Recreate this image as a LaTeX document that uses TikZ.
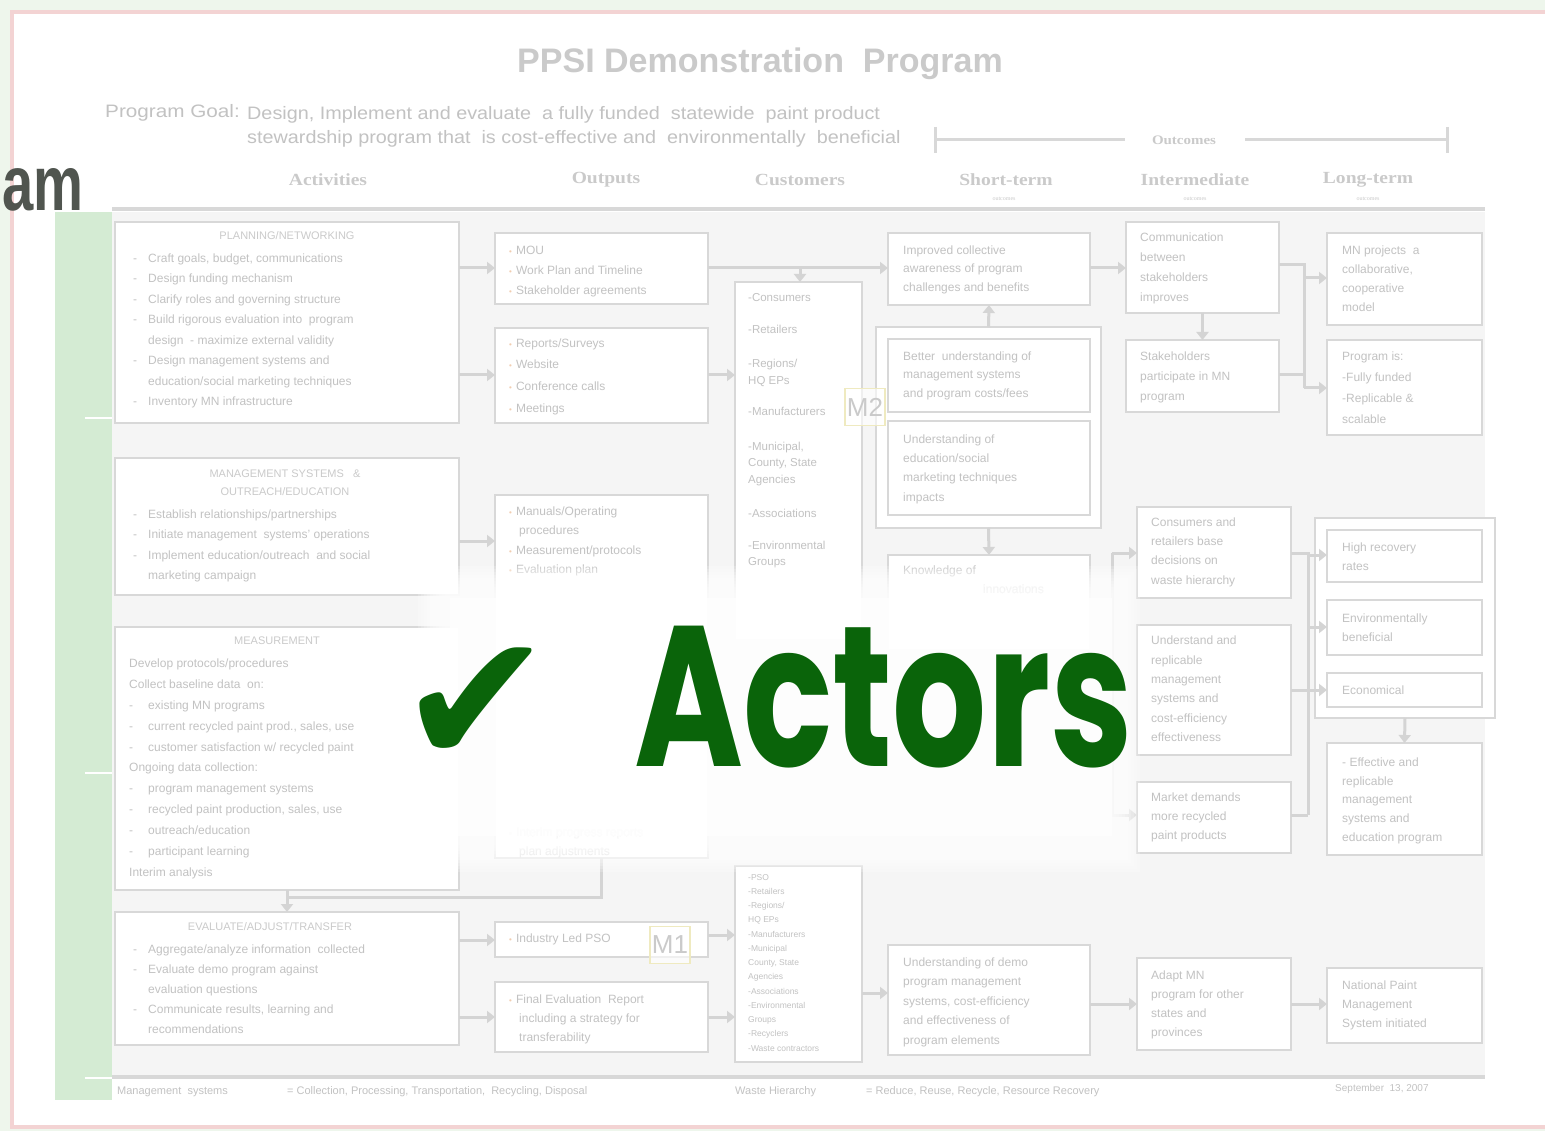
\documentclass[tikz,border=0pt]{standalone}
\usepackage{fontspec}
\setmainfont{Liberation Sans}
\newfontfamily\hdserif{Liberation Serif}
\newfontfamily\symfont{DejaVu Sans}
\newfontfamily\actfont{Poppins}
\usetikzlibrary{arrows.meta}
\definecolor{txc}{HTML}{C2C2C2}
\definecolor{ttl}{HTML}{CACACA}
\definecolor{bxc}{HTML}{D8D8D8}
\definecolor{arc}{HTML}{D4D4D4}
\definecolor{dgbg}{HTML}{F5F5F5}
\definecolor{outg}{HTML}{EEF6EC}
\definecolor{pinkf}{HTML}{F3D3D3}
\definecolor{barg}{HTML}{D4EBD3}
\definecolor{dotc}{HTML}{F1CDB0}
\definecolor{actg}{HTML}{0A640A}
\definecolor{mlab}{HTML}{EFEAC0}
\definecolor{amc}{HTML}{50554F}
\newcommand\dlin[1]{\makebox[15pt][l]{-}#1}
\newcommand\clin[1]{\hspace*{15pt}#1}
\newcommand\obul{{\color{dotc}\fontsize{8}{8}\selectfont\textbullet}\hspace{4pt}}
\newcommand\fs[2]{\fontsize{#1}{#2}\selectfont}
\newcommand\bxn[5]{\node[bx, minimum width={#4pt-#2pt}, minimum height={#5pt-#3pt}] (#1) at ({(#2+#4)/2},{(#3+#5)/2}) {};}
\newcommand\hdx[1]{\scalebox{1.15}[1]{#1}}
\begin{document}
\begin{tikzpicture}[x=1pt,y=-1pt,
  bx/.style={draw=bxc, line width=2.5pt, fill=white, inner sep=0pt, outer sep=0pt, rectangle},
  tx/.style={anchor=north west, inner sep=0pt, align=left, text=txc, font=\fs{12}{20.5}},
  ttlx/.style={inner sep=0pt, align=center, text=ttl, font=\fs{11}{18}},
  hd/.style={inner sep=0pt, text=ttl, font=\hdserif\bfseries\fs{17}{19}},
  hds/.style={inner sep=0pt, text=ttl, font=\hdserif\fs{6}{7}},
  arr/.style={draw=arc, line width=3pt, -{Triangle[length=8pt,width=12pt]}},
  ln/.style={draw=arc, line width=3pt},
  mbox/.style={draw=mlab, line width=1.2pt, fill=white, fill opacity=0.6, text opacity=1, text=ttl, font=\fs{26}{26}, inner sep=1pt, minimum width=40pt, minimum height=37pt},
  ft/.style={anchor=west, inner sep=0pt, text=txc, font=\fs{11}{13}}]
\useasboundingbox (0,0) rectangle (1545,1131);
% slide background
\fill[outg] (0,0) rectangle (1545,1131);
\fill[white] (12,12) rectangle (1545,1127);
\draw[pinkf, line width=4pt] (1550,12) -- (12,12) -- (12,1127) -- (1550,1127);
\node[font=\bfseries\fs{78}{78}, text=amc, anchor=base east, inner sep=0pt] (amw) at (84,211) {\scalebox{0.72}[1]{am}};
\fill[barg] (55,212) rectangle (112,1100);
\fill[dgbg] (112,212) rectangle (1485,1075);
\foreach \yy in {418,773,1078} \draw[white, line width=1.5pt] (85,\yy) -- (112,\yy);
\draw[bxc, line width=4pt] (112,209) -- (1485,209);
\draw[bxc, line width=4pt] (112,1077) -- (1485,1077);

% title and goal
\node[inner sep=0pt, text=ttl, font=\bfseries\fs{34}{36}] (title) at (760,64) {PPSI Demonstration\ \ Program};
\node[anchor=west, inner sep=0pt, text=txc, font=\fs{18}{20}] (goal) at (105,113) {\scalebox{1.15}[1]{Program Goal:}};
\node[anchor=north west, inner sep=0pt, align=left, text=txc, font=\fs{18}{24}] (goaltext) at (247,106) {\scalebox{1.1}[1]{Design, Implement and evaluate\ \ a fully funded\ \ statewide\ \ paint product}\\\scalebox{1.1}[1]{stewardship program that\ \ is cost-effective and\ \ environmentally\ \ beneficial}};
% outcomes bracket
\node[hd, font=\hdserif\bfseries\fs{13}{15}] (outc) at (1184,140) {\hdx{Outcomes}};
\draw[bxc, line width=3pt] (935,140) -- (1125,140);
\draw[bxc, line width=3pt] (1245,140) -- (1447,140);
\draw[bxc, line width=3pt] (935,127) -- (935,153);
\draw[bxc, line width=3pt] (1447,127) -- (1447,153);
% column headers
\node[hd] (hact) at (328,180) {\hdx{Activities}};
\node[hd] (hout) at (606,180) {\hdx{Outputs}};
\node[hd] (hcus) at (800,180) {\hdx{Customers}};
\node[hd] (hst) at (1006,180) {\hdx{Short-term}};
\node[hd] (hint) at (1195,180) {\hdx{Intermediate}};
\node[hd] (hlt) at (1368,180) {\hdx{Long-term}};
\node[hds] (hst2) at (1004,199) {outcomes};
\node[hds] (hint2) at (1195,199) {outcomes};
\node[hds] (hlt2) at (1368,199) {outcomes};

% group boxes
\bxn{grp}{876}{327}{1101}{528}
\bxn{grptwo}{1315}{518}{1495}{718}
% activities
\bxn{plan}{115}{222}{459}{423}
\bxn{mgmt}{115}{458}{459}{595}
\bxn{meas}{115}{627}{459}{890}
\bxn{eval}{115}{912}{459}{1045}
% outputs
\bxn{oa}{495}{233}{708}{304}
\bxn{ob}{495}{328}{708}{423}
\bxn{oc}{495}{495}{708}{858}
\bxn{od}{495}{922}{708}{957}
\bxn{oe}{495}{982}{708}{1052}
% customers
\bxn{ca}{735}{282}{862}{640}
\bxn{cb}{735}{866}{862}{1062}
% short-term
\bxn{sa}{888}{233}{1090}{305}
\bxn{sb}{888}{339}{1090}{412}
\bxn{sc}{888}{421}{1090}{515}
\bxn{sd}{888}{555}{1090}{650}
\bxn{se}{888}{945}{1090}{1055}
% intermediate
\bxn{ia}{1126}{222}{1279}{313}
\bxn{ib}{1126}{340}{1279}{412}
\bxn{ic}{1137}{507}{1291}{598}
\bxn{id}{1137}{625}{1291}{755}
\bxn{ie}{1137}{782}{1291}{853}
\bxn{if}{1137}{958}{1291}{1050}
% long-term
\bxn{la}{1327}{233}{1482}{325}
\bxn{lb}{1327}{340}{1482}{435}
\bxn{lc}{1327}{530}{1482}{582}
\bxn{ld}{1327}{600}{1482}{655}
\bxn{le}{1327}{673}{1482}{707}
\bxn{lf}{1327}{743}{1482}{855}
\bxn{lg}{1327}{968}{1482}{1043}

% connectors
\draw[arr] (plan.east |- 0,268) -- (oa.west |- 0,268);
\draw[arr] (plan.east |- 0,375) -- (ob.west |- 0,375);
\draw[arr] (mgmt.east |- 0,541) -- (oc.west |- 0,541);
\draw[arr] (eval.east |- 0,940) -- (od.west |- 0,940);
\draw[arr] (eval.east |- 0,1017) -- (oe.west |- 0,1017);
\draw[arr] (oa.east |- 0,268) -- (sa.west |- 0,268);
\draw[arr] (800,268) -- (ca.north -| 800,0);
\draw[arr] (ob.east |- 0,375) -- (ca.west |- 0,375);
\draw[arr] (grp.north) -- (sa.south);
\draw[arr] (grp.south) -- (sd.north);
\draw[arr] (sa.east |- 0,268) -- (ia.west |- 0,268);
\draw[arr] (ia.south) -- (ib.north);
\draw[ln] (ia.east |- 0,265) -- (1304,265) -- (1304,388);
\draw[ln] (ib.east |- 0,375) -- (1304,375);
\draw[arr] (1304,278) -- (la.west |- 0,278);
\draw[arr] (1304,388) -- (lb.west |- 0,388);
\draw[ln] (sd.east |- 0,608) -- (1112,608);
\draw[ln] (1112,553) -- (1112,815);
\draw[arr] (1112,553) -- (ic.west |- 0,553);
\draw[arr] (1112,815) -- (ie.west |- 0,815);
\draw[ln] (ic.east |- 0,553) -- (1308,553) -- (1308,815);
\draw[ln] (id.east |- 0,690) -- (1308,690);
\draw[ln] (ie.east |- 0,815) -- (1308,815);
\draw[arr] (1308,555) -- (lc.west |- 0,555);
\draw[arr] (1308,627) -- (ld.west |- 0,627);
\draw[arr] (1308,690) -- (le.west |- 0,690);
\draw[arr] (grptwo.south) -- (lf.north);
\draw[ln] (oc.south) -- (oc.south |- 0,897) -- (meas.south |- 0,897);
\draw[arr] (meas.south) -- (eval.north);
\draw[arr] (od.east |- 0,935) -- (cb.west |- 0,935);
\draw[arr] (oe.east |- 0,1017) -- (cb.west |- 0,1017);
\draw[arr] (cb.east |- 0,993) -- (se.west |- 0,993);
\draw[arr] (se.east |- 0,1004) -- (if.west |- 0,1004);
\draw[arr] (if.east |- 0,1004) -- (lg.west |- 0,1004);

% activity texts
\node[ttlx] (tplan) at (287,236) {PLANNING/NETWORKING};
\node[tx] (xplan) at (133,253.5) {\dlin{Craft goals, budget, communications}\\\dlin{Design funding mechanism}\\\dlin{Clarify roles and governing structure}\\\dlin{Build rigorous evaluation into\ \ program}\\\clin{design\ \ - maximize external validity}\\\dlin{Design management systems and}\\\clin{education/social marketing techniques}\\\dlin{Inventory MN infrastructure}};
\node[ttlx] (tmgmt) at (285,483) {MANAGEMENT SYSTEMS\ \ \ \&\\OUTREACH/EDUCATION};
\node[tx] (xmgmt) at (133,509.5) {\dlin{Establish relationships/partnerships}\\\dlin{Initiate management\ \ systems' operations}\\\dlin{Implement education/outreach\ \ and social}\\\clin{marketing campaign}};
\node[ttlx] (tmeas) at (277,641) {MEASUREMENT};
\node[tx, font=\fs{12}{20.9}] (xmeas) at (129,658.5) {Develop protocols/procedures\\Collect baseline data\ \ on:\\\dlin{\hspace*{4pt}existing MN programs}\\\dlin{\hspace*{4pt}current recycled paint prod., sales, use}\\\dlin{\hspace*{4pt}customer satisfaction w/ recycled paint}\\Ongoing data collection:\\\dlin{\hspace*{4pt}program management systems}\\\dlin{\hspace*{4pt}recycled paint production, sales, use}\\\dlin{\hspace*{4pt}outreach/education}\\\dlin{\hspace*{4pt}participant learning}\\Interim analysis};
\node[ttlx] (teval) at (270,927) {EVALUATE/ADJUST/TRANSFER};
\node[tx, font=\fs{12}{20}] (xeval) at (133,944.5) {\dlin{Aggregate/analyze information\ \ collected}\\\dlin{Evaluate demo program against}\\\clin{evaluation questions}\\\dlin{Communicate results, learning and}\\\clin{recommendations}};

% output texts
\node[tx, font=\fs{12}{20}] (xoa) at (509,245.5) {\obul MOU\\\obul Work Plan and Timeline\\\obul Stakeholder agreements};
\node[tx, font=\fs{12}{21.6}] (xob) at (509,338.5) {\obul Reports/Surveys\\\obul Website\\\obul Conference calls\\\obul Meetings};
\node[tx, font=\fs{12}{19.5}] (xoc) at (509,506.5) {\obul Manuals/Operating\\\hspace*{10pt}procedures\\\obul Measurement/protocols\\\obul Evaluation plan};
\node[tx, font=\fs{12}{19}] (xoc2) at (509,827.5) {\obul Interim progress reports\\\hspace*{10pt}plan adjustments};
\node[tx] (xod) at (509,933.5) {\obul Industry Led PSO};
\node[tx, font=\fs{12}{19}] (xoe) at (509,994.5) {\obul Final Evaluation\ \ Report\\\hspace*{10pt}including a strategy for\\\hspace*{10pt}transferability};
\node[mbox] (mone) at (670,945) {M1};
\node[mbox] (mtwo) at (865,407) {M2};

% customer texts
\node[tx, font=\fs{11.5}{16.5}] (xca) at (748,293.5) {-Consumers\\[15.5pt]-Retailers\\[17.5pt]-Regions/\\HQ EPs\\[14.5pt]-Manufacturers\\[18.5pt]-Municipal,\\County, State\\Agencies\\[17.5pt]-Associations\\[15.5pt]-Environmental\\Groups};
\node[tx, font=\fs{8.5}{14.25}] (xcb) at (748,874) {-PSO\\-Retailers\\-Regions/\\HQ EPs\\-Manufacturers\\-Municipal\\County, State\\Agencies\\-Associations\\-Environmental\\Groups\\-Recyclers\\-Waste contractors};

% short-term texts
\node[tx, font=\fs{12}{18.5}] (xsa) at (903,245.5) {Improved collective\\awareness of program\\challenges and benefits};
\node[tx, font=\fs{12}{18.5}] (xsb) at (903,351.5) {Better\ \ understanding of\\management systems\\and program costs/fees};
\node[tx, font=\fs{12}{19.3}] (xsc) at (903,434.5) {Understanding of\\education/social\\marketing techniques\\impacts};
\node[tx, font=\fs{12}{19.3}] (xsd) at (903,565.5) {Knowledge of\\\hspace*{80pt}innovations};
\node[tx, font=\fs{12}{19.5}] (xse) at (903,957.5) {Understanding of demo\\program management\\systems, cost-efficiency\\and effectiveness of\\program elements};

% intermediate texts
\node[tx, font=\fs{12}{20}] (xia) at (1140,232.5) {Communication\\between\\stakeholders\\improves};
\node[tx, font=\fs{12}{20}] (xib) at (1140,351.5) {Stakeholders\\participate in MN\\program};
\node[tx, font=\fs{12}{19.3}] (xic) at (1151,517.5) {Consumers and\\retailers base\\decisions on\\waste hierarchy};
\node[tx, font=\fs{12}{19.3}] (xid) at (1151,636) {Understand and\\replicable\\management\\systems and\\cost-efficiency\\effectiveness};
\node[tx, font=\fs{12}{19}] (xie) at (1151,792.5) {Market demands\\more recycled\\paint products};
\node[tx, font=\fs{12}{19}] (xif) at (1151,970.5) {Adapt MN\\program for other\\states and\\provinces};

% long-term texts
\node[tx, font=\fs{12}{19}] (xla) at (1342,245.5) {MN projects\ \ a\\collaborative,\\cooperative\\model};
\node[tx, font=\fs{12}{21}] (xlb) at (1342,351.5) {Program is:\\-Fully funded\\-Replicable \&\\scalable};
\node[tx, font=\fs{12}{19}] (xlc) at (1342,542.5) {High recovery\\rates};
\node[tx, font=\fs{12}{19}] (xld) at (1342,613.5) {Environmentally\\beneficial};
\node[tx] (xle) at (1342,685.5) {Economical};
\node[tx, font=\fs{12}{18.75}] (xlf) at (1342,757.5) {- Effective and\\replicable\\management\\systems and\\education program};
\node[tx, font=\fs{12}{19}] (xlg) at (1342,980.5) {National Paint\\Management\\System initiated};

% footer
\node[ft] (fa) at (117,1092) {Management\ \ systems};
\node[ft] (fb) at (287,1092) {= Collection, Processing, Transportation,\ \ Recycling, Disposal};
\node[ft] (fc) at (735,1092) {Waste Hierarchy};
\node[ft] (fd) at (866,1092) {= Reduce, Reuse, Recycle, Resource Recovery};
\node[ft, font=\fs{10}{12}] (fe) at (1335,1089) {September\ \ 13, 2007};

% soft white overlay behind the big label
\foreach \i in {0,...,9} \fill[white, opacity=0.2] ({418+\i*3},{566+\i*3}) rectangle ({1140-\i*3},{872-\i*3});
\fill[white, opacity=0.75] (450,598) rectangle (1112,836);
\node[font=\symfont\fs{185}{185}, text=actg, inner sep=0pt] (chk) at (476,706) {✔};
\node[font=\actfont\bfseries\fs{200}{200}, text=actg, inner sep=0pt, anchor=base west] (actors) at (634,766) {\scalebox{0.74}[1]{Actors}};
\end{tikzpicture}
\end{document}
